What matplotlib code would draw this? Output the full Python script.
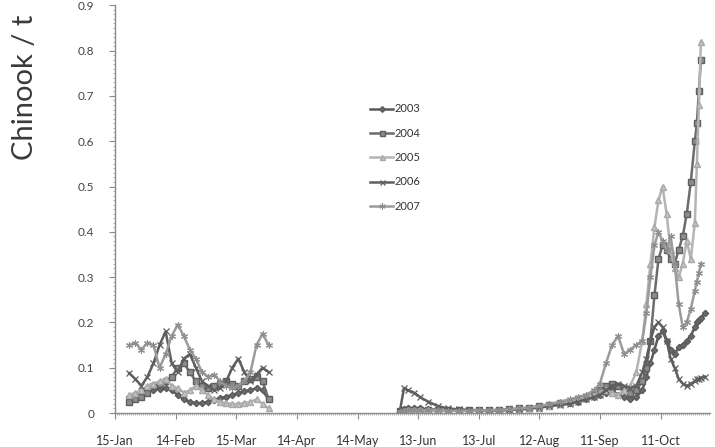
import numpy as np
import matplotlib
matplotlib.use("Agg")
import matplotlib.pyplot as plt
from matplotlib.ticker import MultipleLocator

plt.rcParams["font.family"] = ["Lato", "DejaVu Sans"]

# day of year for the winter and the summer/autumn sampling runs
days_winter = [22, 25, 28, 31, 34, 37, 40, 43, 46, 49, 52, 55,
               58, 61, 64, 67, 70, 73, 76, 79, 82, 85, 88, 91]
days_autumn = [156, 158, 160, 163, 166, 170, 175, 180, 185, 190, 195, 200,
               205, 210, 215, 220, 225, 230, 235, 240, 244, 248, 252, 255,
               258, 261, 264, 267, 270, 273, 276, 278, 280, 282, 284, 286,
               288, 290, 292, 294, 296, 298, 300, 302, 303, 304, 305, 307]

years = ["2003", "2004", "2005", "2006", "2007"]

winter_2003 = [0.035, 0.040, 0.044, 0.047, 0.050, 0.054, 0.055, 0.050, 0.040, 0.030, 0.024, 0.022,
               0.022, 0.025, 0.029, 0.033, 0.036, 0.040, 0.044, 0.048, 0.050, 0.055, 0.050, 0.030]
winter_2004 = [0.025, 0.030, 0.035, 0.045, 0.060, 0.065, 0.070, 0.080, 0.100, 0.110, 0.090, 0.070,
               0.060, 0.055, 0.060, 0.065, 0.070, 0.065, 0.060, 0.070, 0.075, 0.080, 0.070, 0.030]
winter_2005 = [0.040, 0.045, 0.050, 0.060, 0.065, 0.070, 0.075, 0.060, 0.055, 0.045, 0.050, 0.060,
               0.050, 0.040, 0.030, 0.025, 0.022, 0.020, 0.020, 0.022, 0.025, 0.030, 0.020, 0.010]
winter_2006 = [0.088, 0.075, 0.060, 0.080, 0.110, 0.150, 0.180, 0.110, 0.090, 0.120, 0.130, 0.100,
               0.070, 0.060, 0.050, 0.055, 0.070, 0.100, 0.120, 0.090, 0.070, 0.085, 0.100, 0.090]
winter_2007 = [0.150, 0.155, 0.140, 0.155, 0.150, 0.100, 0.130, 0.170, 0.195, 0.170, 0.140, 0.120,
               0.090, 0.080, 0.085, 0.070, 0.060, 0.055, 0.060, 0.070, 0.090, 0.150, 0.175, 0.150]

nan = np.nan
autumn_2003 = [0.005, 0.008, 0.010, 0.010, 0.010, 0.008, 0.007, 0.006, 0.006, 0.005, 0.005, 0.005,
               0.006, 0.007, 0.008, 0.010, 0.013, 0.016, 0.020, 0.022, 0.025, 0.030, 0.035, 0.040,
               0.045, 0.050, 0.040, 0.035, 0.030, 0.035, 0.050, 0.080, 0.110, 0.140, 0.170, 0.180,
               0.160, 0.140, 0.130, 0.145, 0.150, 0.160, 0.170, 0.190, 0.200, 0.205, 0.210, 0.220]
autumn_2004 = [0.004, 0.006, 0.006, 0.007, 0.007, 0.007, 0.006, 0.006, 0.006, 0.006, 0.006, 0.006,
               0.007, 0.008, 0.010, 0.012, 0.015, 0.018, 0.022, 0.025, 0.030, 0.035, 0.040, 0.050,
               0.060, 0.065, 0.060, 0.050, 0.045, 0.050, 0.070, 0.100, 0.160, 0.260, 0.340, 0.370,
               0.360, 0.340, 0.330, 0.360, 0.390, 0.440, 0.510, 0.600, 0.640, 0.710, 0.780, nan]
autumn_2005 = [0.003, 0.005, 0.006, 0.006, 0.006, 0.006, 0.005, 0.005, 0.005, 0.005, 0.005, 0.005,
               0.006, 0.007, 0.008, 0.010, 0.012, 0.015, 0.020, 0.025, 0.030, 0.035, 0.040, 0.045,
               0.050, 0.045, 0.040, 0.050, 0.060, 0.090, 0.160, 0.240, 0.330, 0.410, 0.470, 0.500,
               0.440, 0.360, 0.320, 0.300, 0.330, 0.380, 0.340, 0.420, 0.550, 0.680, 0.820, nan]
autumn_2006 = [0.005, 0.055, 0.050, 0.045, 0.035, 0.025, 0.015, 0.010, 0.008, 0.007, 0.006, 0.006,
               0.006, 0.007, 0.008, 0.010, 0.012, 0.015, 0.018, 0.020, 0.025, 0.030, 0.035, 0.040,
               0.050, 0.060, 0.065, 0.060, 0.055, 0.060, 0.090, 0.120, 0.160, 0.190, 0.200, 0.190,
               0.160, 0.120, 0.100, 0.075, 0.065, 0.060, 0.065, 0.070, 0.075, 0.075, 0.078, 0.080]
autumn_2007 = [0.003, 0.005, 0.006, 0.006, 0.006, 0.006, 0.006, 0.005, 0.005, 0.005, 0.006, 0.006,
               0.007, 0.008, 0.010, 0.012, 0.015, 0.020, 0.025, 0.030, 0.035, 0.040, 0.050, 0.065,
               0.110, 0.150, 0.170, 0.130, 0.140, 0.150, 0.160, 0.220, 0.300, 0.370, 0.400, 0.380,
               0.360, 0.390, 0.330, 0.240, 0.190, 0.200, 0.230, 0.270, 0.290, 0.310, 0.330, nan]

winter = [winter_2003, winter_2004, winter_2005, winter_2006, winter_2007]
autumn = [autumn_2003, autumn_2004, autumn_2005, autumn_2006, autumn_2007]

tick_days = [15, 45, 75, 105, 135, 165, 195, 225, 255, 285]
tick_labels = ["15-Jan", "14-Feb", "15-Mar", "14-Apr", "14-May",
               "13-Jun", "13-Jul", "12-Aug", "11-Sep", "11-Oct"]

styles = [
    dict(color="#5a5a5a", marker="D", markersize=3.2, mfc="#6a6a6a", mec="#5a5a5a"),
    dict(color="#6c6c6c", marker="s", markersize=4.0, mfc="#8c8c8c", mec="#5e5e5e"),
    dict(color="#b4b4b4", marker="^", markersize=4.0, mfc="#c4c4c4", mec="#a8a8a8"),
    dict(color="#5e5e5e", marker="x", markersize=4.0, mec="#5e5e5e", mew=0.9),
    dict(color="#9c9c9c", marker=(6, 2, 0), markersize=5.0, mec="#8e8e8e", mew=0.8),
]

fig = plt.figure(figsize=(7.15, 4.47), dpi=100)
ax = fig.add_axes([0.161, 0.076, 0.832, 0.912])

for year, w, a, st in zip(years, winter, autumn, styles):
    ax.plot(days_winter, w, linewidth=1.8, label=year, **st)
    ax.plot(days_autumn, a, linewidth=1.8, **st)

ax.set_xlim(15, 309.5)
ax.set_ylim(0, 0.9)
ax.set_xticks(tick_days)
ax.set_xticklabels(tick_labels)
ax.xaxis.set_minor_locator(MultipleLocator(1))
ax.yaxis.set_minor_locator(MultipleLocator(0.01))
ax.set_yticks(np.arange(0, 0.91, 0.1))
ax.set_yticklabels(["0"] + [f"{v:.1f}" for v in np.arange(0.1, 0.91, 0.1)])

for side in ("top", "right"):
    ax.spines[side].set_visible(False)
for side in ("left", "bottom"):
    ax.spines[side].set_color("#8a8a8a")
    ax.spines[side].set_linewidth(1.0)

ax.tick_params(axis="x", which="major", length=4, color="#8a8a8a", pad=12,
               labelsize=9, labelcolor="#333333")
ax.tick_params(axis="y", which="major", length=4, color="#8a8a8a", pad=11,
               labelsize=8.5, labelcolor="#444444")
ax.tick_params(which="minor", length=1.5, color="#a0a0a0", width=0.6)

leg = ax.legend(loc="upper left", bbox_to_anchor=(366 / 715, 1 - 99 / 447),
                bbox_transform=fig.transFigure, frameon=False, fontsize=8,
                handlelength=2.0, handletextpad=0.15, labelspacing=1.2,
                borderaxespad=0, markerscale=0.9)
for t in leg.get_texts():
    t.set_color("#333333")

fig.text(25 / 715, 1 - 160 / 447, "Chinook / t", rotation=90, fontsize=21,
         ha="center", va="bottom", color="#3a3a3a")

fig.savefig("out.png", dpi=100)
